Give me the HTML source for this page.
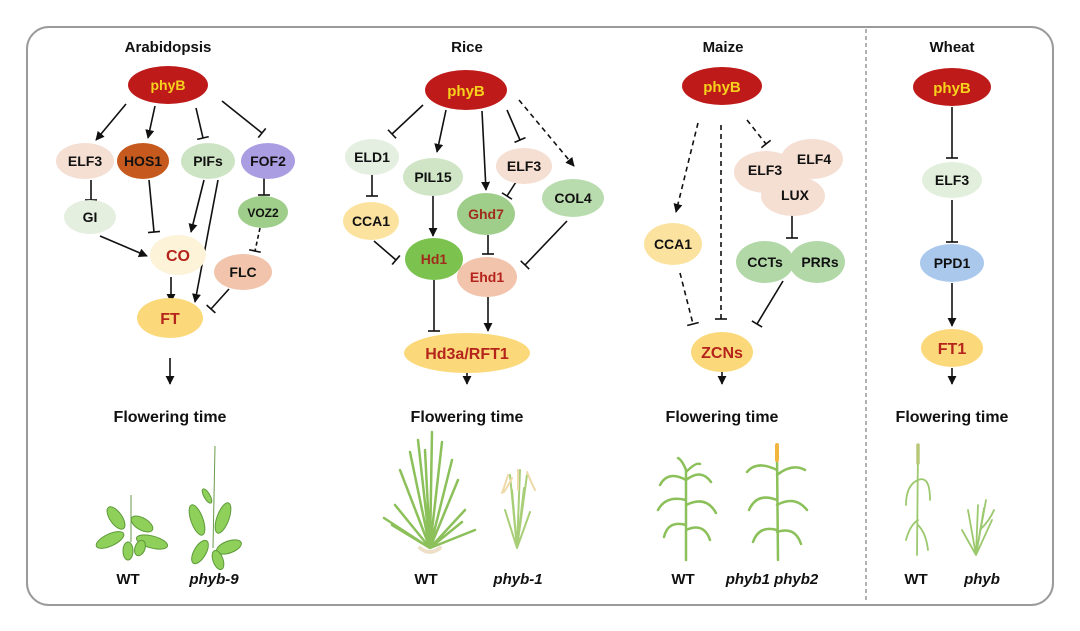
<!DOCTYPE html>
<html><head><meta charset="utf-8"><style>
html,body{margin:0;padding:0;background:#fff;}
svg{display:block;}
text{font-family:"Liberation Sans",Arial,sans-serif;font-weight:bold;}
</style></head><body>
<svg width="1080" height="631" viewBox="0 0 1080 631" xmlns="http://www.w3.org/2000/svg">
<defs>
<marker id="ar" viewBox="0 0 10 10" refX="9" refY="5" markerWidth="9" markerHeight="9" markerUnits="userSpaceOnUse" orient="auto"><path d="M0,0 L10,5 L0,10 z" fill="#111"/></marker>
<marker id="tb" viewBox="-2 -6 4 12" refX="0" refY="0" markerWidth="4" markerHeight="12" markerUnits="userSpaceOnUse" orient="auto"><path d="M0,-6 L0,6" stroke="#111" stroke-width="1.6"/></marker>
</defs>
<rect x="27" y="27" width="1026" height="578" rx="22" fill="#fff" stroke="#9a9a9a" stroke-width="2"/>
<line x1="866" y1="29" x2="866" y2="603" stroke="#666" stroke-width="1" stroke-dasharray="4,3"/>

<g font-size="15" text-anchor="middle" fill="#111">
<text x="168" y="52">Arabidopsis</text>
<text x="467" y="52">Rice</text>
<text x="723" y="52">Maize</text>
<text x="952" y="52">Wheat</text>
<text x="170" y="422" font-size="16">Flowering time</text>
<text x="467" y="422" font-size="16">Flowering time</text>
<text x="722" y="422" font-size="16">Flowering time</text>
<text x="952" y="422" font-size="16">Flowering time</text>
<text x="128" y="584">WT</text>
<text x="214" y="584" font-style="italic">phyb-9</text>
<text x="426" y="584">WT</text>
<text x="518" y="584" font-style="italic">phyb-1</text>
<text x="683" y="584">WT</text>
<text x="772" y="584" font-style="italic">phyb1 phyb2</text>
<text x="916" y="584">WT</text>
<text x="982" y="584" font-style="italic">phyb</text>
</g>

<g stroke="#111" stroke-width="1.6" fill="none">
<line x1="126" y1="104" x2="96" y2="140" marker-end="url(#ar)"/>
<line x1="155" y1="106" x2="148" y2="138" marker-end="url(#ar)"/>
<line x1="196" y1="108" x2="203" y2="138" marker-end="url(#tb)"/>
<line x1="222" y1="101" x2="262" y2="133" marker-end="url(#tb)"/>
<line x1="91" y1="180" x2="91" y2="200" marker-end="url(#tb)"/>
<line x1="149" y1="180" x2="154" y2="232" marker-end="url(#tb)"/>
<line x1="204" y1="180" x2="191" y2="232" marker-end="url(#ar)"/>
<line x1="218" y1="180" x2="195" y2="302" marker-end="url(#ar)"/>
<line x1="100" y1="236" x2="147" y2="256" marker-end="url(#ar)"/>
<line x1="264" y1="178" x2="264" y2="195" marker-end="url(#tb)"/>
<line x1="260" y1="228" x2="255" y2="251" marker-end="url(#tb)" stroke-dasharray="4,3"/>
<line x1="229" y1="289" x2="211" y2="309" marker-end="url(#tb)"/>
<line x1="171" y1="277" x2="171" y2="302" marker-end="url(#ar)"/>
<line x1="170" y1="358" x2="170" y2="384" marker-end="url(#ar)"/>
<line x1="423" y1="105" x2="392" y2="134" marker-end="url(#tb)"/>
<line x1="446" y1="110" x2="437" y2="152" marker-end="url(#ar)"/>
<line x1="482" y1="111" x2="486" y2="190" marker-end="url(#ar)"/>
<line x1="507" y1="110" x2="520" y2="140" marker-end="url(#tb)"/>
<line x1="519" y1="100" x2="574" y2="166" marker-end="url(#ar)" stroke-dasharray="5,4"/>
<line x1="372" y1="175" x2="372" y2="196" marker-end="url(#tb)"/>
<line x1="433" y1="194" x2="433" y2="236" marker-end="url(#ar)"/>
<line x1="374" y1="241" x2="396" y2="260" marker-end="url(#tb)"/>
<line x1="516" y1="182" x2="507" y2="196" marker-end="url(#tb)"/>
<line x1="488" y1="235" x2="488" y2="254" marker-end="url(#tb)"/>
<line x1="567" y1="221" x2="525" y2="265" marker-end="url(#tb)"/>
<line x1="434" y1="280" x2="434" y2="331" marker-end="url(#tb)"/>
<line x1="488" y1="297" x2="488" y2="331" marker-end="url(#ar)"/>
<line x1="467" y1="364" x2="467" y2="384" marker-end="url(#ar)"/>
<line x1="698" y1="123" x2="676" y2="212" marker-end="url(#ar)" stroke-dasharray="5,4"/>
<line x1="721" y1="125" x2="721" y2="319" marker-end="url(#tb)" stroke-dasharray="5,4"/>
<line x1="747" y1="120" x2="766" y2="144" marker-end="url(#tb)" stroke-dasharray="5,4"/>
<line x1="680" y1="273" x2="693" y2="324" marker-end="url(#tb)" stroke-dasharray="5,4"/>
<line x1="792" y1="215" x2="792" y2="238" marker-end="url(#tb)"/>
<line x1="783" y1="281" x2="757" y2="324" marker-end="url(#tb)"/>
<line x1="722" y1="372" x2="722" y2="384" marker-end="url(#ar)"/>
<line x1="952" y1="107" x2="952" y2="158" marker-end="url(#tb)"/>
<line x1="952" y1="200" x2="952" y2="242" marker-end="url(#tb)"/>
<line x1="952" y1="283" x2="952" y2="326" marker-end="url(#ar)"/>
<line x1="952" y1="368" x2="952" y2="384" marker-end="url(#ar)"/>
</g>

<g font-size="14" text-anchor="middle">
<ellipse cx="168" cy="85" rx="40" ry="19" fill="#bf1a1a"/><text x="168" y="90" fill="#f7d21c">phyB</text>
<ellipse cx="85" cy="161" rx="29" ry="18" fill="#f5ded2"/><text x="85" y="166" fill="#111">ELF3</text>
<ellipse cx="143" cy="161" rx="26" ry="18" fill="#c65a1e"/><text x="143" y="166" fill="#111">HOS1</text>
<ellipse cx="208" cy="161" rx="27" ry="18" fill="#cde4c4"/><text x="208" y="166" fill="#111">PIFs</text>
<ellipse cx="268" cy="161" rx="27" ry="18" fill="#ab9de2"/><text x="268" y="166" fill="#111">FOF2</text>
<ellipse cx="90" cy="217" rx="26" ry="17" fill="#e4efe0"/><text x="90" y="222" fill="#111">GI</text>
<ellipse cx="263" cy="212" rx="25" ry="16" fill="#9fce8a"/><text x="263" y="217" fill="#111" font-size="12">VOZ2</text>
<ellipse cx="178" cy="255" rx="28" ry="20" fill="#fcf3d9"/><text x="178" y="261" fill="#b5241c" font-size="16">CO</text>
<ellipse cx="243" cy="272" rx="29" ry="18" fill="#f1c4ab"/><text x="243" y="277" fill="#111">FLC</text>
<ellipse cx="170" cy="318" rx="33" ry="20" fill="#fbd97a"/><text x="170" y="324" fill="#b5241c" font-size="16">FT</text>
<ellipse cx="466" cy="90" rx="41" ry="20" fill="#bf1a1a"/><text x="466" y="96" fill="#f7d21c" font-size="15">phyB</text>
<ellipse cx="372" cy="157" rx="27" ry="18" fill="#e4efe2"/><text x="372" y="162" fill="#111">ELD1</text>
<ellipse cx="433" cy="177" rx="30" ry="19" fill="#cfe5c6"/><text x="433" y="182" fill="#111">PIL15</text>
<ellipse cx="524" cy="166" rx="28" ry="18" fill="#f5ded2"/><text x="524" y="171" fill="#111">ELF3</text>
<ellipse cx="573" cy="198" rx="31" ry="19" fill="#b9dcaf"/><text x="573" y="203" fill="#111">COL4</text>
<ellipse cx="371" cy="221" rx="28" ry="19" fill="#fbe39f"/><text x="371" y="226" fill="#111">CCA1</text>
<ellipse cx="486" cy="214" rx="29" ry="21" fill="#9fce8a"/><text x="486" y="219" fill="#a02c1c">Ghd7</text>
<ellipse cx="434" cy="259" rx="29" ry="21" fill="#7cc24f"/><text x="434" y="264" fill="#a02c1c">Hd1</text>
<ellipse cx="487" cy="277" rx="30" ry="20" fill="#f2c4ab"/><text x="487" y="282" fill="#b5241c">Ehd1</text>
<ellipse cx="467" cy="353" rx="63" ry="20" fill="#fbd97a"/><text x="467" y="359" fill="#b5241c" font-size="16">Hd3a/RFT1</text>
<ellipse cx="722" cy="86" rx="40" ry="19" fill="#bf1a1a"/><text x="722" y="92" fill="#f7d21c" font-size="15">phyB</text>
<ellipse cx="812" cy="159" rx="31" ry="20" fill="#f5ded2"/>
<ellipse cx="766" cy="172" rx="32" ry="21" fill="#f5ded2"/>
<ellipse cx="793" cy="196" rx="32" ry="20" fill="#f5ded2"/>
<text x="814" y="164" fill="#111">ELF4</text>
<text x="765" y="175" fill="#111">ELF3</text>
<text x="795" y="200" fill="#111">LUX</text>
<ellipse cx="673" cy="244" rx="29" ry="21" fill="#fbe39f"/><text x="673" y="249" fill="#111">CCA1</text>
<ellipse cx="817" cy="262" rx="28" ry="21" fill="#b2d8a8"/>
<ellipse cx="765" cy="262" rx="29" ry="21" fill="#b2d8a8"/>
<text x="765" y="267" fill="#111">CCTs</text>
<text x="820" y="267" fill="#111">PRRs</text>
<ellipse cx="722" cy="352" rx="31" ry="20" fill="#fbd97a"/><text x="722" y="358" fill="#b5241c" font-size="16">ZCNs</text>
<ellipse cx="952" cy="87" rx="39" ry="19" fill="#bf1a1a"/><text x="952" y="93" fill="#f7d21c" font-size="15">phyB</text>
<ellipse cx="952" cy="180" rx="30" ry="18" fill="#e1efdc"/><text x="952" y="185" fill="#111">ELF3</text>
<ellipse cx="952" cy="263" rx="32" ry="19" fill="#a9c8ec"/><text x="952" y="268" fill="#111">PPD1</text>
<ellipse cx="952" cy="348" rx="31" ry="19" fill="#fbd97a"/><text x="952" y="354" fill="#b5241c" font-size="16">FT1</text>
</g>

<g fill="#8fd05a" stroke="#5e9a3a" stroke-width="1">
<line x1="131" y1="495" x2="131" y2="542" stroke="#6a9a4a"/>
<ellipse cx="110" cy="540" rx="15" ry="6" transform="rotate(-25 110 540)"/>
<ellipse cx="152" cy="542" rx="16" ry="6" transform="rotate(15 152 542)"/>
<ellipse cx="116" cy="518" rx="6" ry="13" transform="rotate(-35 116 518)"/>
<ellipse cx="142" cy="524" rx="12" ry="6" transform="rotate(30 142 524)"/>
<ellipse cx="128" cy="551" rx="5" ry="9"/>
<ellipse cx="140" cy="548" rx="5" ry="8" transform="rotate(20 140 548)"/>
<line x1="215" y1="446" x2="213" y2="548" stroke="#6a9a4a"/>
<ellipse cx="197" cy="520" rx="6" ry="16" transform="rotate(-20 197 520)"/>
<ellipse cx="223" cy="518" rx="6" ry="16" transform="rotate(20 223 518)"/>
<ellipse cx="200" cy="552" rx="6" ry="13" transform="rotate(30 200 552)"/>
<ellipse cx="229" cy="547" rx="13" ry="6" transform="rotate(-20 229 547)"/>
<ellipse cx="218" cy="560" rx="5" ry="10" transform="rotate(-20 218 560)"/>
<ellipse cx="207" cy="496" rx="3" ry="8" transform="rotate(-30 207 496)"/>
</g>
<g fill="none" stroke="#8cc05a" stroke-width="2.5" stroke-linecap="round">
<path d="M430 548 L418 440 M430 548 L432 432 M430 548 L442 442 M430 548 L410 452 M430 548 L452 460 M430 548 L395 505 M430 548 L465 510 M430 548 L392 525 M430 548 L462 522 M430 548 L425 450 M430 548 L400 470 M430 548 L458 480 M430 548 L384 518 M430 548 L475 530"/>
<path d="M420 548 q10 8 20 0" stroke="#eee0c8" stroke-width="4"/>
<path d="M517 548 L510 475 M517 548 L520 470 M517 548 L527 475 M517 548 L505 510 M517 548 L530 512 M517 548 L512 490 M517 548 L524 488" stroke="#a8cf78" stroke-width="2"/>
<path d="M508 475 q-3 10 -6 18 M527 472 q4 10 8 18 M518 470 l0 20 M512 478 q-4 8 -8 14" stroke="#eed9a8" stroke-width="2"/>
<path d="M686 560 L686 470 M686 480 q-18 -10 -26 5 M686 480 q15 -12 25 2 M686 500 q-20 -5 -28 10 M686 505 q20 -10 30 8 M686 525 q-18 -5 -22 12 M686 530 q18 -8 24 10 M686 470 q-4 -10 -8 -12 M686 472 q10 -10 14 -8"/>
<path d="M778 560 L777 455 M777 470 q-20 -10 -30 2 M777 475 q15 -12 28 -5 M777 500 q-20 -8 -28 10 M777 505 q18 -10 30 5 M777 530 q-18 -5 -24 12 M777 532 q18 -6 24 12"/>
<path d="M777 445 l0 15" stroke="#f2b640" stroke-width="4"/>
<path d="M917 555 L918 447 M918 480 q-12 5 -12 25 M918 480 q12 -5 12 20 M918 520 q-8 5 -12 20 M918 525 q8 8 10 25" stroke="#9cc86e" stroke-width="1.8"/>
<path d="M918 445 l0 18" stroke="#b8c878" stroke-width="3.5"/>
<path d="M976 555 L978 505 M976 555 L986 500 M976 555 L968 510 M976 555 L992 520 M976 555 L962 530 M980 530 q10 -10 14 -20 M976 555 L984 508" stroke="#9cc86e" stroke-width="1.8"/>
</g>
</svg>
</body></html>
